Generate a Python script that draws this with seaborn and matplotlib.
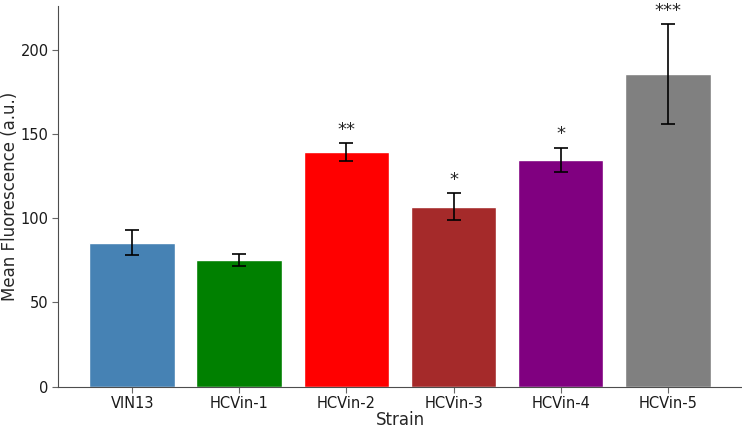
import matplotlib

matplotlib.use("Agg")

import matplotlib.pyplot as plt
import pandas as pd
import seaborn as sns

strains = ["VIN13", "HCVin-1", "HCVin-2", "HCVin-3", "HCVin-4", "HCVin-5"]
mean_fluor = [85.5, 75.1, 139.3, 106.8, 134.7, 185.4]
err = [7.6, 3.7, 5.2, 8.2, 7.1, 29.6]
stars = ["", "", "**", "*", "*", "***"]
colors = ["steelblue", "green", "red", "brown", "purple", "gray"]


def main() -> None:
    sns.set_style("ticks")
    plt.rcParams["font.family"] = ["DejaVu Sans"]

    df = pd.DataFrame({"strain": strains, "mean": mean_fluor, "err": err})

    fig, ax = plt.subplots(figsize=(7.42, 4.28), dpi=100)
    fig.subplots_adjust(left=0.0786, right=0.9995, bottom=0.0965, top=0.9867)

    sns.barplot(
        data=df,
        x="strain",
        y="mean",
        hue="strain",
        palette=colors,
        legend=False,
        width=0.8,
        saturation=1,
        errorbar=None,
        ax=ax,
    )
    ax.errorbar(
        range(len(strains)),
        mean_fluor,
        yerr=err,
        fmt="none",
        ecolor="black",
        elinewidth=1.2,
        capsize=5,
        capthick=1.2,
    )
    for i, s in enumerate(stars):
        if s:
            ax.annotate(
                s,
                (i, mean_fluor[i] + err[i]),
                xytext=(0, 3),
                textcoords="offset points",
                ha="center",
                va="bottom",
                fontsize=13,
            )

    ax.set_xlim(-0.69, 5.69)
    ax.set_ylim(0, 226)
    ax.set_yticks([0, 50, 100, 150, 200])
    ax.set_xlabel("Strain", fontsize=12, labelpad=0)
    ax.set_ylabel("Mean Fluorescence (a.u.)", fontsize=12, labelpad=1)
    ax.tick_params(labelsize=10.5, color="0.4", length=4, pad=3, labelcolor="0.1")
    for sp in ("left", "bottom"):
        ax.spines[sp].set_color("0.3")
    sns.despine(ax=ax)

    fig.savefig("out.png", dpi=100, facecolor="white")
    plt.close(fig)


if __name__ == "__main__":
    main()
